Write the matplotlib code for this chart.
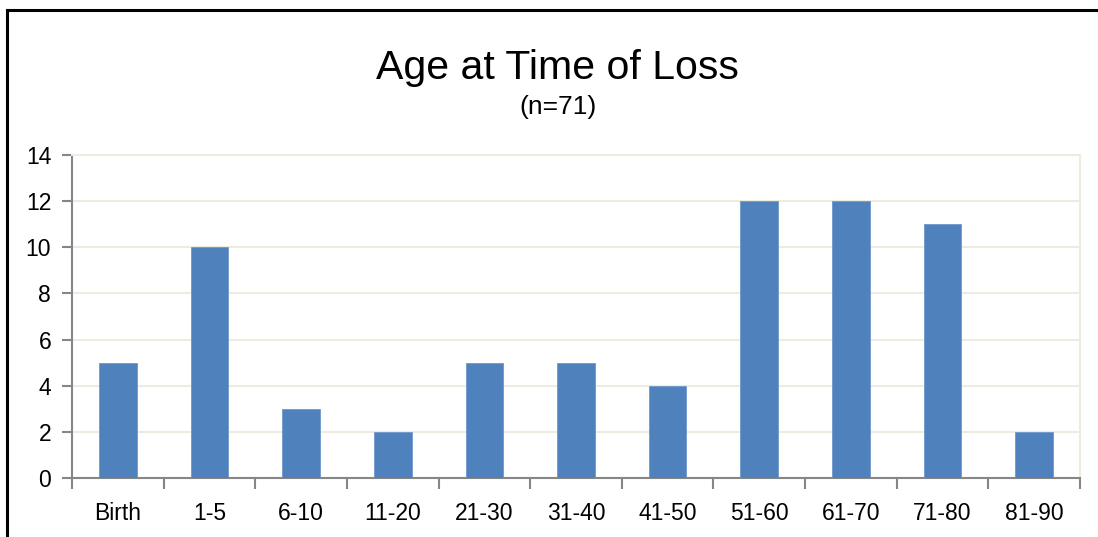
import matplotlib
matplotlib.use("Agg")
import matplotlib.pyplot as plt
from matplotlib.lines import Line2D
import numpy as np

categories = ["Birth", "1-5", "6-10", "11-20", "21-30", "31-40", "41-50",
              "51-60", "61-70", "71-80", "81-90"]
counts = [5, 10, 3, 2, 5, 5, 4, 12, 12, 11, 2]
y_ticks = [0, 2, 4, 6, 8, 10, 12, 14]

plt.rcParams['font.family'] = ['Liberation Sans', 'DejaVu Sans']

bar_color = '#4F81BD'
grid_color = '#EEECE1'
axis_color = '#868686'

fig = plt.figure(figsize=(10.98, 5.37), dpi=100)
ax = fig.add_axes([0.0656, 0.1099, 0.918, 0.6015])

x = np.arange(len(categories))
ax.bar(x, counts, width=0.41, color=bar_color, edgecolor='#6f97c9', linewidth=0.6, zorder=3)

ax.set_xlim(-0.5, len(categories) - 0.5)
ax.set_ylim(0, 14)
ax.set_yticks(y_ticks)
ax.set_yticklabels([str(v) for v in y_ticks], fontsize=16.5)
ax.yaxis.grid(True, color=grid_color, linewidth=1.5, zorder=0)

# category boundaries carry the ticks, labels sit in between
ax.set_xticks(np.arange(-0.5, len(categories), 1.0))
ax.set_xticklabels([])
ax.set_xticks(x, minor=True)
ax.set_xticklabels(categories, minor=True, fontsize=16.5)
ax.tick_params(axis='x', which='minor', length=0, pad=17)
ax.tick_params(axis='x', which='major', length=8, width=1.5, color=axis_color, direction='out')
ax.tick_params(axis='y', length=7, width=1.5, color=axis_color, direction='out', pad=8)

for s in ['left', 'bottom']:
    ax.spines[s].set_color(axis_color)
    ax.spines[s].set_linewidth(1.5)
for s in ['top', 'right']:
    ax.spines[s].set_color(grid_color)
    ax.spines[s].set_linewidth(1.5)

fig.text(0.508, 0.852, "Age at Time of Loss", ha='center', va='baseline', fontsize=29.5)
fig.text(0.508, 0.787, "(n=71)", ha='center', va='baseline', fontsize=19)

# chart frame (left and top edges visible)
fig.add_artist(Line2D([0.0065, 0.0065], [0, 0.982], transform=fig.transFigure, color='black', linewidth=2.2))
fig.add_artist(Line2D([0.0065, 1.0], [0.982, 0.982], transform=fig.transFigure, color='black', linewidth=2.2))

fig.savefig("out.png", dpi=100)
